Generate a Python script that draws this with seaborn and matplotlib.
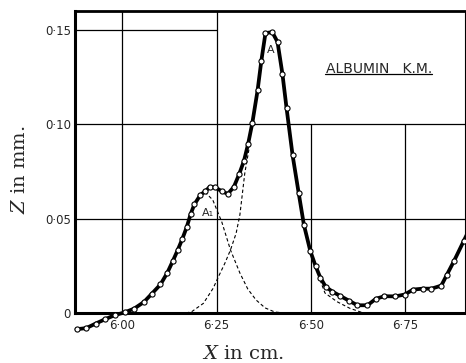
import matplotlib
matplotlib.use("Agg")
import matplotlib.pyplot as plt
import seaborn as sns

# ---- data ----
x_cm = [5.878, 5.904, 5.929, 5.954, 5.979, 6.007, 6.031, 6.057, 6.078, 6.101,
        6.119, 6.134, 6.147, 6.159, 6.171, 6.181, 6.191, 6.207, 6.220, 6.232,
        6.246, 6.264, 6.280, 6.296, 6.310, 6.323, 6.334, 6.345, 6.359, 6.369,
        6.380, 6.398, 6.412, 6.425, 6.436, 6.452, 6.468, 6.482, 6.499, 6.513,
        6.526, 6.540, 6.558, 6.579, 6.602, 6.624, 6.651, 6.673, 6.696, 6.725,
        6.750, 6.772, 6.798, 6.821, 6.847, 6.862, 6.881, 6.907, 6.931]
z_mm = [-0.0086, -0.0080, -0.0056, -0.0033, -0.0012, 0.0004, 0.0023, 0.0058, 0.0102, 0.0151,
        0.0212, 0.0276, 0.0334, 0.0392, 0.0456, 0.0523, 0.0575, 0.0625, 0.0645, 0.0668,
        0.0666, 0.0645, 0.0631, 0.0668, 0.0735, 0.0807, 0.0897, 0.1006, 0.1179, 0.1336,
        0.1483, 0.1488, 0.1436, 0.1267, 0.1085, 0.0836, 0.0638, 0.0468, 0.0329, 0.0249,
        0.0186, 0.0139, 0.0113, 0.0090, 0.0065, 0.0041, 0.0041, 0.0075, 0.0089, 0.0088,
        0.0098, 0.0124, 0.0129, 0.0129, 0.0145, 0.0203, 0.0276, 0.0383, 0.0482]

# component A1 (dashed, visible part after leaving the main curve)
a1_x = [6.219, 6.240, 6.264, 6.287, 6.312, 6.333, 6.355, 6.379, 6.405, 6.432]
a1_z = [0.0641, 0.0599, 0.0482, 0.0334, 0.0212, 0.0127, 0.0069, 0.0027, 0.0005, 0.0]

# component A (dashed): rising flank and right tail
a_rise_x = [6.169, 6.184, 6.215, 6.241, 6.255, 6.272, 6.287, 6.302, 6.312, 6.325, 6.339]
a_rise_z = [0.0, 0.0007, 0.0051, 0.0131, 0.0192, 0.0263, 0.0334, 0.0422, 0.0520, 0.0740, 0.0901]
a_tail_x = [6.525, 6.538, 6.570, 6.604, 6.636]
a_tail_z = [0.0175, 0.0106, 0.0060, 0.0025, 0.0003]

x_ticks = [6.00, 6.25, 6.50, 6.75]
x_tick_labels = ["6·00", "6·25", "6·50", "6·75"]
y_ticks = [0, 0.05, 0.10, 0.15]
y_tick_labels = ["0", "0·05", "0·10", "0·15"]

title_text = "ALBUMIN   K.M."
peak_labels = ["A", "A₁"]

# ---- figure ----
sns.set_style("white")
plt.rcParams["font.family"] = ["DejaVu Sans"]

X_MIN, X_MAX = 5.874, 6.910
Y_MIN, Y_MAX = 0.0, 0.160

fig = plt.figure(figsize=(4.66, 3.63), dpi=100)
ax = fig.add_axes([0.16094, 0.13774, 0.8369, 0.83196])

# graph-paper style grid (partial, as in the reference)
gkw = dict(colors="black", linewidth=0.9, zorder=1)
ax.vlines([6.00, 6.25], Y_MIN, Y_MAX, **gkw)
ax.vlines([6.50, 6.75], Y_MIN, 0.10, **gkw)
ax.hlines([0.05, 0.10], X_MIN, X_MAX, **gkw)
ax.hlines([0.15], X_MIN, 6.25, **gkw)

# dashed components
dkw = dict(color="black", linewidth=0.8, linestyle=(0, (3, 2.2)), zorder=3,
           sort=False, estimator=None, ax=ax)
sns.lineplot(x=a1_x, y=a1_z, **dkw)
sns.lineplot(x=a_rise_x, y=a_rise_z, **dkw)
sns.lineplot(x=a_tail_x, y=a_tail_z, **dkw)

# main measured curve
sns.lineplot(x=x_cm, y=z_mm, ax=ax, color="black", linewidth=2.7, marker="o",
             markersize=3.7, markerfacecolor="white", markeredgecolor="black",
             markeredgewidth=0.8, clip_on=False, zorder=5, sort=False, estimator=None)

ax.set_xlim(X_MIN, X_MAX)
ax.set_ylim(Y_MIN, Y_MAX)

ax.set_xticks(x_ticks)
ax.set_xticklabels(x_tick_labels, fontsize=8.5)
ax.set_yticks(y_ticks)
ax.set_yticklabels(y_tick_labels, fontsize=8.5)
ax.tick_params(axis="both", length=0)
ax.tick_params(axis="x", pad=4.5)
ax.tick_params(axis="y", pad=3)

for side, lw in [("left", 2.2), ("bottom", 2.2), ("top", 2.0), ("right", 0.8)]:
    ax.spines[side].set_linewidth(lw)
    ax.spines[side].set_color("black")
    ax.spines[side].set_visible(True)

ax.set_xlabel("$X$ in cm.", fontsize=14, family="DejaVu Serif",
              math_fontfamily="dejavuserif")
ax.xaxis.set_label_coords(0.432, -0.136)
ax.xaxis.label.set_verticalalignment("center")

ax.set_ylabel("$Z$ in mm.", fontsize=14, family="DejaVu Serif",
              math_fontfamily="dejavuserif")
ax.yaxis.set_label_coords(-0.1407, 0.4735)
ax.yaxis.label.set_verticalalignment("center")

# title box text with underline
ax.text(0.7788, 0.7937, title_text, transform=ax.transAxes, ha="center",
        va="baseline", fontsize=10, zorder=6)
ax.axhline(0.1264, 0.642, 0.9156, color="black", linewidth=0.9, zorder=6)

# peak labels
ax.text(6.3945, 0.1396, peak_labels[0], ha="center", va="center", fontsize=8, zorder=6)
ax.text(6.228, 0.0530, peak_labels[1], ha="center", va="center", fontsize=8, zorder=6)

fig.savefig("out.png", dpi=100)
